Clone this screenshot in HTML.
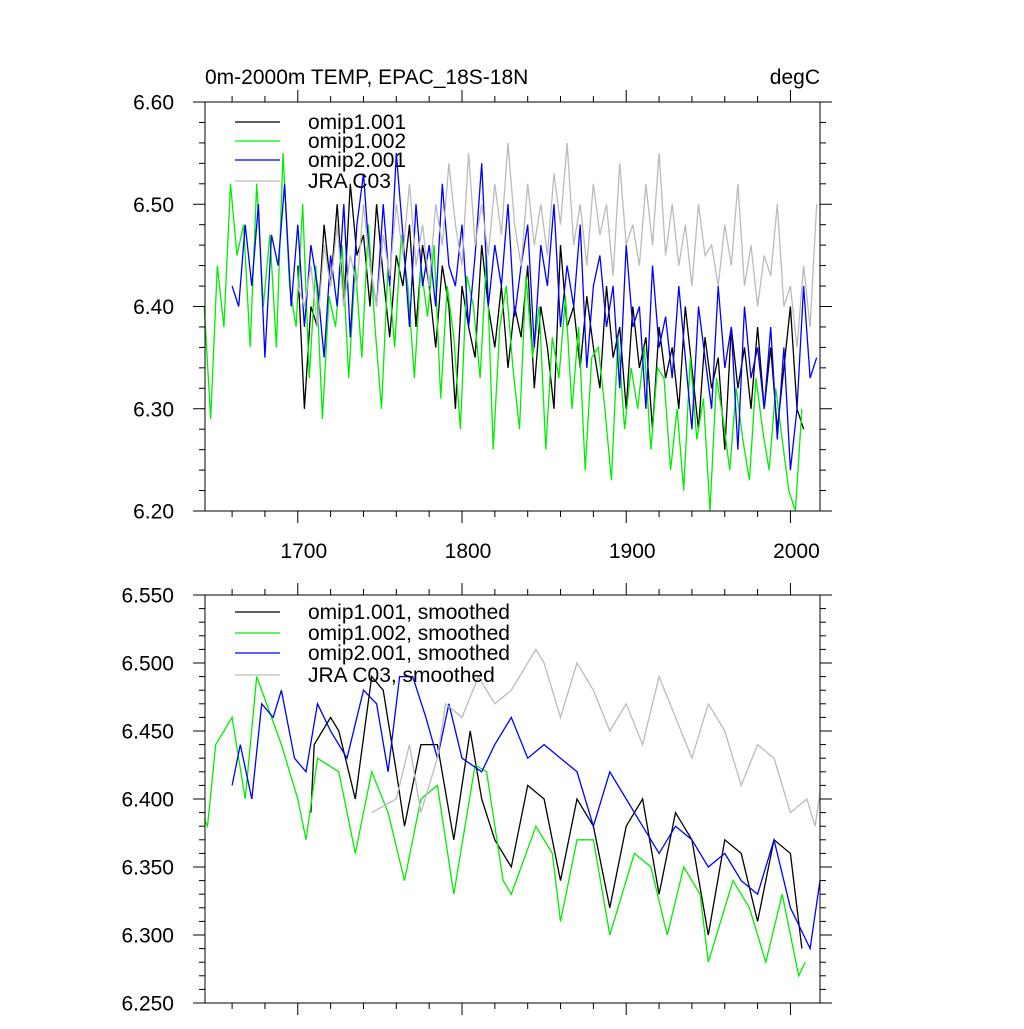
<!DOCTYPE html>
<html><head><meta charset="utf-8"><style>
body{margin:0;background:#fff}
svg text{font-family:"Liberation Sans",sans-serif}
</style></head><body>
<svg id="chart" width="1024" height="1024" xmlns="http://www.w3.org/2000/svg">
<rect width="1024" height="1024" fill="#fff"/>
<g id="top"></g>
<g id="bot"></g>
<text x="205" y="84" font-size="21">0m-2000m TEMP, EPAC_18S-18N</text>
<text x="820" y="84" font-size="21" text-anchor="end">degC</text>
</svg>
<script>
const seriesNames=["omip1.001","omip1.002","omip2.001","JRA C03"];
const seriesColors=["#000","#00ee00","#0000ff","#bbbbbb"];
const xTicks=[1700,1800,1900,2000];
const topYTicks=[6.20,6.30,6.40,6.50,6.60];
const botYTicks=[6.250,6.300,6.350,6.400,6.450,6.500,6.550];
const rawStart=[1700,1643,1660,1700];
const rawStep=4;
const rawBlack=[6.44,6.30,6.40,6.38,6.48,6.42,6.50,6.40,6.52,6.45,6.47,6.40,6.50,6.43,6.37,6.45,6.42,6.48,6.38,6.46,6.42,6.36,6.44,6.40,6.30,6.42,6.38,6.35,6.46,6.40,6.36,6.42,6.34,6.40,6.37,6.44,6.32,6.40,6.36,6.30,6.46,6.38,6.40,6.34,6.41,6.36,6.32,6.42,6.35,6.38,6.30,6.40,6.34,6.37,6.28,6.38,6.33,6.36,6.30,6.40,6.34,6.28,6.37,6.32,6.35,6.26,6.38,6.32,6.36,6.30,6.38,6.30,6.36,6.28,6.34,6.40,6.30,6.28];
const rawGreen=[6.40,6.29,6.44,6.38,6.52,6.45,6.48,6.36,6.52,6.40,6.47,6.36,6.55,6.42,6.38,6.50,6.33,6.44,6.29,6.41,6.38,6.46,6.33,6.44,6.35,6.48,6.38,6.30,6.44,6.36,6.47,6.42,6.33,6.44,6.39,6.46,6.31,6.42,6.37,6.28,6.43,6.40,6.33,6.45,6.26,6.38,6.42,6.34,6.28,6.43,6.35,6.40,6.26,6.37,6.33,6.41,6.30,6.38,6.24,6.35,6.36,6.30,6.23,6.37,6.28,6.34,6.30,6.36,6.26,6.34,6.33,6.24,6.30,6.22,6.35,6.27,6.31,6.20,6.33,6.29,6.24,6.32,6.27,6.23,6.33,6.28,6.24,6.32,6.27,6.22,6.20,6.30];
const rawBlue=[6.42,6.40,6.48,6.42,6.50,6.35,6.47,6.44,6.52,6.40,6.48,6.38,6.46,6.42,6.35,6.45,6.40,6.50,6.37,6.48,6.53,6.44,6.40,6.50,6.42,6.55,6.47,6.38,6.50,6.42,6.46,6.40,6.52,6.44,6.42,6.48,6.38,6.45,6.54,6.40,6.46,6.42,6.50,6.39,6.44,6.48,6.36,6.46,6.42,6.50,6.38,6.44,6.40,6.48,6.34,6.42,6.45,6.38,6.42,6.32,6.46,6.38,6.40,6.30,6.44,6.36,6.39,6.33,6.42,6.35,6.28,6.40,6.35,6.30,6.42,6.34,6.38,6.26,6.40,6.33,6.36,6.30,6.38,6.27,6.36,6.24,6.30,6.42,6.33,6.35];
const rawGray=[6.42,6.40,6.44,6.38,6.46,6.42,6.48,6.40,6.45,6.42,6.50,6.44,6.40,6.47,6.43,6.50,6.45,6.52,6.44,6.48,6.42,6.50,6.46,6.54,6.48,6.44,6.55,6.46,6.50,6.45,6.52,6.47,6.56,6.48,6.44,6.52,6.46,6.50,6.45,6.53,6.48,6.56,6.46,6.50,6.44,6.52,6.47,6.50,6.43,6.54,6.46,6.48,6.44,6.52,6.46,6.55,6.45,6.50,6.44,6.48,6.42,6.50,6.45,6.46,6.42,6.48,6.44,6.52,6.42,6.46,6.40,6.45,6.43,6.50,6.40,6.42,6.36,6.44,6.38,6.50];
const smBlackYears=[1708,1710,1720,1725,1735,1745,1752,1760,1765,1775,1785,1795,1805,1812,1820,1830,1840,1850,1860,1870,1880,1890,1900,1910,1920,1930,1940,1950,1960,1970,1980,1990,2000,2007];
const smBlack=[6.39,6.44,6.46,6.45,6.40,6.49,6.48,6.42,6.38,6.44,6.44,6.37,6.45,6.40,6.37,6.35,6.41,6.40,6.34,6.40,6.38,6.32,6.38,6.40,6.33,6.39,6.37,6.30,6.37,6.36,6.31,6.37,6.36,6.29];
const smGreenYears=[1643,1645,1650,1655,1660,1668,1675,1690,1700,1705,1712,1725,1735,1745,1755,1765,1775,1785,1795,1808,1815,1825,1830,1845,1855,1860,1870,1880,1890,1905,1915,1925,1935,1945,1950,1965,1975,1985,1995,2005,2009];
const smGreen=[6.385,6.38,6.44,6.45,6.46,6.40,6.49,6.44,6.40,6.37,6.43,6.42,6.36,6.42,6.39,6.34,6.40,6.41,6.33,6.425,6.42,6.34,6.33,6.38,6.36,6.31,6.37,6.37,6.30,6.36,6.35,6.30,6.35,6.33,6.28,6.34,6.32,6.28,6.33,6.27,6.28];
const smBlueYears=[1660,1665,1672,1678,1685,1690,1698,1705,1712,1720,1730,1740,1748,1755,1762,1770,1778,1785,1792,1800,1812,1820,1830,1840,1850,1860,1870,1880,1890,1900,1910,1920,1930,1940,1950,1960,1970,1980,1990,2000,2008,2012,2018];
const smBlue=[6.41,6.44,6.40,6.47,6.46,6.48,6.43,6.42,6.47,6.45,6.43,6.48,6.47,6.42,6.49,6.49,6.46,6.43,6.47,6.43,6.42,6.44,6.46,6.43,6.44,6.43,6.42,6.38,6.42,6.40,6.38,6.36,6.38,6.37,6.35,6.36,6.34,6.33,6.37,6.32,6.30,6.29,6.34];
const smGrayYears=[1745,1760,1768,1775,1785,1790,1800,1810,1820,1830,1845,1850,1860,1870,1880,1890,1900,1910,1920,1930,1940,1950,1960,1970,1980,1990,2000,2010,2015,2018];
const smGray=[6.39,6.40,6.44,6.39,6.43,6.47,6.46,6.49,6.47,6.48,6.51,6.50,6.46,6.50,6.48,6.45,6.47,6.44,6.49,6.46,6.43,6.47,6.45,6.41,6.44,6.43,6.39,6.40,6.38,6.405];

const NS="http://www.w3.org/2000/svg";
const L=205,R=820,X0=1643.5,X1=2018;
const sx=v=>L+(v-X0)/(X1-X0)*(R-L);
function mk(tag,attrs,parent){const e=document.createElementNS(NS,tag);for(const k in attrs)e.setAttribute(k,attrs[k]);parent.appendChild(e);return e;}

function panel(g,T,B,y0,y1,yTicks,minorStep,fmt,series,legY,suffix,showXLabels){
  const sy=v=>B-(v-y0)/(y1-y0)*(B-T);
  series.forEach((s,i)=>{
    let d="";
    s.vals.forEach((v,j)=>{d+=(j?"L":"M")+sx(s.years(j)).toFixed(1)+","+sy(v).toFixed(1);});
    const p=mk("path",{d:d,fill:"none",stroke:seriesColors[i],"stroke-width":1.3},g);
    
    
  });
  const f=mk("rect",{x:L,y:T,width:R-L,height:B-T,fill:"none",stroke:"#000","stroke-width":1},g);
  
  
  const n=Math.round((y1-y0)/minorStep);
  for(let k=0;k<=n;k++){
    const v=y0+k*minorStep;const y=sy(v);
    const major=yTicks.some(t=>Math.abs(t-v)<1e-6);
    const len=major?12:6;
    mk("line",{x1:L,x2:L-len,y1:y,y2:y,stroke:"#000"},g);
    mk("line",{x1:R,x2:R+len,y1:y,y2:y,stroke:"#000"},g);
  }
  yTicks.forEach(t=>{
    const tx=mk("text",{x:174,y:sy(t)+7.5,"font-size":21,"text-anchor":"end"},g);
    tx.textContent=t.toFixed(fmt);
    
    
  });
  for(let yr=1660;yr<=2010;yr+=20){
    const x=sx(yr);const len=(yr%100===0)?12:6;
    mk("line",{x1:x,x2:x,y1:T,y2:T-len,stroke:"#000"},g);
    mk("line",{x1:x,x2:x,y1:B,y2:B+len,stroke:"#000"},g);
  }
  if(showXLabels) xTicks.forEach(t=>{
    const tx=mk("text",{x:sx(t)+6,y:B+47,"font-size":21,"text-anchor":"middle"},g);
    tx.textContent=t;
    
    
  });
  seriesNames.forEach((nm,i)=>{
    const y=legY[i];
    const ln=mk("line",{x1:235,x2:280,y1:y,y2:y,stroke:seriesColors[i],"stroke-width":1.3},g);
    
    
    const tx=mk("text",{x:308,y:y+7,"font-size":21},g);
    tx.textContent=nm+suffix;
    
    
  });
}
const rawSeries=[rawBlack,rawGreen,rawBlue,rawGray].map((v,i)=>({vals:v,years:j=>rawStart[i]+j*rawStep}));
panel(document.getElementById("top"),102,511,6.20,6.60,topYTicks,0.02,2,rawSeries,[122,141,160,181],"",true);
const smYears=[smBlackYears,smGreenYears,smBlueYears,smGrayYears];
const smSeries=[smBlack,smGreen,smBlue,smGray].map((v,i)=>({vals:v,years:j=>smYears[i][j]}));
panel(document.getElementById("bot"),595,1003,6.25,6.55,botYTicks,0.01,3,smSeries,[612,633,653,675],", smoothed",false);
</script>
</body></html>
